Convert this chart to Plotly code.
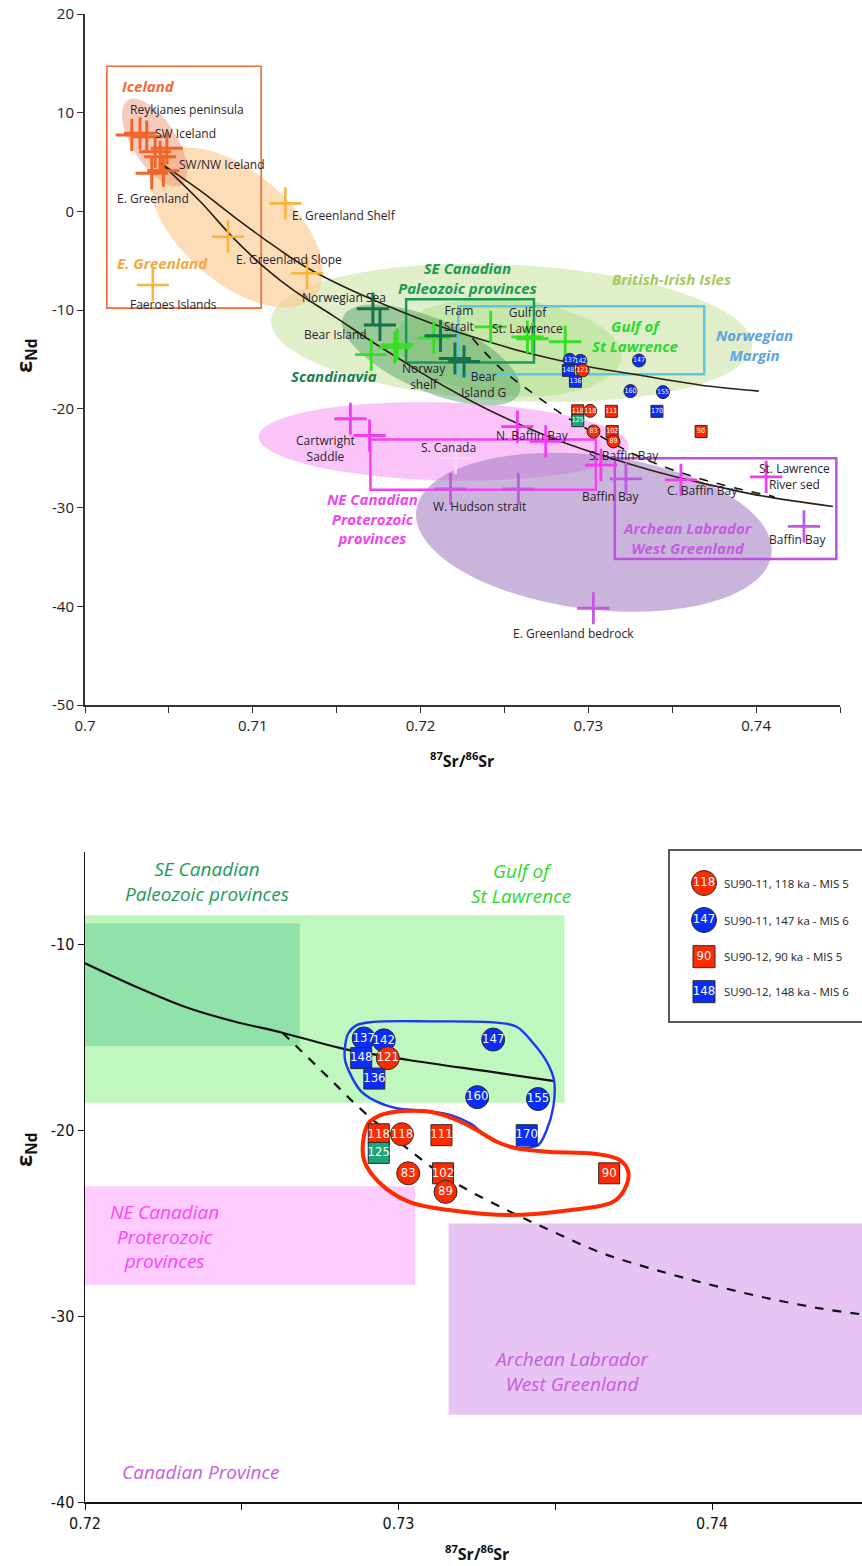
import numpy as np
import plotly.graph_objects as go

# ---------------- DATA (top panel source-area crosses) ----------------
iceland_x = [0.70279, 0.70328, 0.70368, 0.70418, 0.70488, 0.70448, 0.70398, 0.70467]
iceland_y = [7.74, 7.91, 7.57, 6.05, 6.39, 5.54, 3.86, 4.13]
egreen_x = [0.71194, 0.70852, 0.71324, 0.70404]
egreen_y = [0.82, -2.56, -6.27, -7.45]
dkgreen_x = [0.71716, 0.71758, 0.72119, 0.72205, 0.72259]
dkgreen_y = [-9.85, -11.5, -12.6, -14.9, -15.2]
brgreen_x = [0.71706, 0.71846, 0.71861, 0.72079, 0.72418, 0.72637, 0.72667, 0.72862]
brgreen_y = [-14.5, -13.8, -13.5, -12.8, -11.7, -12.7, -12.9, -13.2]
magenta_x = [0.71582, 0.71696, 0.72577, 0.72746, 0.73075, 0.73552, 0.7406]
magenta_y = [-21.0, -22.7, -21.8, -23.3, -25.7, -27.2, -26.9]
faint_x = [0.72209]
faint_y = [-25.0]
purple_x = [0.72179, 0.72583, 0.73224, 0.74285, 0.7303]
purple_y = [-28.1, -28.1, -27.1, -31.9, -40.2]

# ---------------- DATA (core samples, both panels) ----------------
c11_5_lab = ["121", "118", "83", "89"]
c11_5_x = [0.72966, 0.73011, 0.73031, 0.7315]
c11_5_y = [-16.1, -20.2, -22.3, -23.3]
c11_6_lab = ["137", "142", "147", "160", "155"]
c11_6_x = [0.72889, 0.72953, 0.73302, 0.73251, 0.73445]
c11_6_y = [-15.04, -15.14, -15.1, -18.2, -18.3]
s12_5_lab = ["118", "111", "102", "90"]
s12_5_x = [0.72937, 0.73137, 0.73142, 0.73672]
s12_5_y = [-20.2, -20.25, -22.3, -22.3]
s12_6_lab = ["148", "136", "170"]
s12_6_x = [0.72881, 0.72923, 0.73409]
s12_6_y = [-16.1, -17.2, -20.25]
s12_g_lab = ["125"]
s12_g_x = [0.72937]
s12_g_y = [-21.2]

legend_labels = ["SU90-11, 118 ka - MIS 5", "SU90-11, 147 ka - MIS 6",
                 "SU90-12, 90 ka - MIS 5", "SU90-12, 148 ka - MIS 6"]
legend_marks = ["118", "147", "90", "148"]

# ---------------- DATA (mixing curves) ----------------
top_up_x = [0.70454, 0.70687, 0.70885, 0.71085, 0.71284, 0.71443, 0.71682, 0.7206,
            0.72309, 0.7263, 0.72995, 0.73273, 0.73672, 0.74016]
top_up_y = [4.87, 2.1, -0.5, -3.0, -5.3, -6.8, -8.7, -11.3, -12.7, -14.3, -15.7,
            -16.5, -17.6, -18.2]
top_lo_x = [0.70454, 0.70687, 0.70885, 0.71085, 0.71244, 0.71482, 0.71721, 0.7188,
            0.72, 0.72279, 0.72478, 0.72836, 0.73154, 0.73433, 0.73672, 0.7403, 0.74458]
top_lo_y = [4.87, 1.0, -2.7, -5.9, -8.0, -10.6, -13.3, -15.0, -16.3, -19.0, -20.7,
            -23.3, -25.1, -26.5, -27.5, -28.8, -29.9]
top_da_x = [0.72309, 0.72478, 0.72675, 0.72876, 0.73075, 0.73273, 0.73473, 0.73672,
            0.7387, 0.74109]
top_da_y = [-12.85, -15.9, -18.5, -20.9, -22.8, -24.6, -26.0, -27.1, -28.0, -28.9]

bot_so_x = [0.72, 0.72162, 0.72318, 0.7247, 0.7263, 0.72825, 0.73032, 0.73292, 0.73493]
bot_so_y = [-10.99, -12.25, -13.33, -14.1, -14.73, -15.6, -16.2, -16.83, -17.32]
bot_da_x = [0.7263, 0.7278, 0.7289, 0.7310, 0.7320, 0.7336, 0.7350, 0.7365, 0.7382,
            0.73995, 0.7417, 0.74343, 0.7448]
bot_da_y = [-14.73, -17.2, -19.0, -21.9, -23.0, -24.4, -25.5, -26.6, -27.5, -28.3,
            -29.0, -29.57, -29.9]

# hand-drawn grouping loops (bottom panel)
blue_loop_x = [0.728294, 0.7284, 0.728667, 0.729197, 0.731005, 0.733132, 0.73377, 0.7343,
               0.734727, 0.73496, 0.734938, 0.734727, 0.734459, 0.734089, 0.733451,
               0.732813, 0.732281, 0.731643, 0.730791, 0.729943, 0.729197, 0.728772,
               0.728453, 0.728294]
blue_loop_y = [-15.48, -14.76, -14.32, -14.15, -14.12, -14.19, -14.41, -15.3, -16.29,
               -17.28, -18.71, -19.97, -20.78, -20.92, -20.81, -20.29, -19.61, -19.16,
               -18.93, -18.8, -18.35, -17.82, -16.92, -16.2]
red_loop_x = [0.728877, 0.729037, 0.72941, 0.730153, 0.731005, 0.731856, 0.732494,
              0.733132, 0.73377, 0.734727, 0.736322, 0.737065, 0.73733, 0.737225,
              0.736852, 0.735502, 0.733557, 0.731611, 0.730322, 0.72941, 0.7289]
red_loop_y = [-20.51, -19.61, -19.18, -18.95, -18.99, -19.43, -19.97, -20.6, -20.96,
              -21.14, -21.26, -21.59, -22.22, -23.11, -23.83, -24.28, -24.55, -24.28,
              -23.83, -22.84, -21.59]

# ---------------- LAYOUT CONSTANTS ----------------
W, H = 862, 1566
ML, MR, MT, MB = 85, 0, 14, 64
PW, PH = W - ML - MR, H - MT - MB
TOP_XR = [0.7, 0.745]
TOP_YR = [-50, 20]
BOT_XR = [0.72, 0.72 + PW / 31350]
BOT_YR = [-40, -5]
SX_TOP = 755 / 0.045
SY_TOP = 691 / 70.0

TXT = "#2b1d2e"
FONT = "Open Sans, Liberation Sans, sans-serif"
NARROW = "Liberation Sans Narrow, DejaVu Sans Condensed, Open Sans, sans-serif"

RED = "#ff2a00"
BLUE = "#0a2cff"
GRN = "#1fa57a"

fig = go.Figure()


def px2x(px):
    return (px - ML) / PW


def py2paper(py):
    return (MT + PH - py) / PH


def ellipse_path(cx, cy, a, b, ang):
    t = np.linspace(0, 2 * np.pi, 90)
    th = np.radians(ang)
    dx = a * np.cos(t) * np.cos(th) - b * np.sin(t) * np.sin(th)
    dy = a * np.cos(t) * np.sin(th) + b * np.sin(t) * np.cos(th)
    xs = cx + dx / SX_TOP
    ys = cy - dy / SY_TOP
    return "M " + " L ".join(f"{x:.6f},{y:.4f}" for x, y in zip(xs, ys)) + " Z"


# ---------- top panel ellipses (source-area fields) ----------
ellipses = [
    # cx, cy, a(px), b(px), angle, fill
    (0.72543, -12.3, 241, 68, 3, "rgba(205,228,170,0.62)"),     # British-Irish
    (0.72525, -13.8, 113, 48, 5, "rgba(175,225,140,0.55)"),      # Gulf green
    (0.72063, -14.55, 96, 36, 23.5, "rgba(80,160,100,0.48)"),    # Scandinavia
    (0.72137, -23.3, 185, 39, 1.5, "rgba(248,160,245,0.62)"),    # NE Canadian
    (0.73033, -32.5, 179, 77, 7, "rgba(165,125,195,0.58)"),      # Archean
    (0.70904, -1.63, 104, 55, 41, "rgba(250,200,140,0.62)"),     # E Greenland
    (0.70415, 6.98, 50, 22, 57.5, "rgba(235,140,110,0.45)"),     # Iceland
]
for cx, cy, a, b, ang, fc in ellipses:
    fig.add_shape(type="path", path=ellipse_path(cx, cy, a, b, ang), xref="x", yref="y",
                  fillcolor=fc, line=dict(width=0), layer="below")

# ---------- top panel outline boxes ----------
boxes = [
    (0.7013, -9.8, 0.7105, 14.7, "#f26b38", 1.6),
    (0.72225, -9.6, 0.73691, -16.5, "#5bc8e0", 2.5),
    (0.71914, -8.9, 0.72676, -15.3, "#1a9a5a", 2.5),
    (0.71701, -23.1, 0.73045, -28.2, "#f542f5", 2.5),
    (0.73158, -25.0, 0.74478, -35.2, "#c050e0", 2.5),
]
for x0, y0, x1, y1, c, w in boxes:
    fig.add_shape(type="rect", x0=x0, y0=y0, x1=x1, y1=y1, xref="x", yref="y",
                  line=dict(color=c, width=w), fillcolor="rgba(0,0,0,0)", layer="below")

# ---------- bottom panel rectangles ----------
rects = [
    (0.72, -8.4, 0.7353, -18.5, "#bff7bf"),
    (0.72, -8.85, 0.72685, -15.45, "#90e2a8"),
    (0.72, -23.0, 0.73053, -28.3, "#fdcbfd"),
    (0.7316, -25.0, 0.76, -35.3, "#e8c4f4"),
]
for x0, y0, x1, y1, c in rects:
    fig.add_shape(type="rect", x0=x0, y0=y0, x1=x1, y1=y1, xref="x2", yref="y2",
                  line=dict(width=0), fillcolor=c, layer="below")


# ---------- curves ----------
def line(x, y, xa, ya, dash="solid", width=1.6, color="#1a1a1a"):
    fig.add_trace(go.Scatter(x=x, y=y, xaxis=xa, yaxis=ya, mode="lines",
                             line=dict(color=color, width=width, dash=dash, shape="spline",
                                       smoothing=1.0),
                             hoverinfo="skip"))


line(top_up_x, top_up_y, "x", "y", color="#2a2010")
line(top_lo_x, top_lo_y, "x", "y", color="#2a2010")
line(top_da_x, top_da_y, "x", "y", dash="dash", color="#111")
line(bot_so_x, bot_so_y, "x2", "y2", width=2.2, color="#111")
line(bot_da_x, bot_da_y, "x2", "y2", dash="dash", width=2.2, color="#111")

# loops
fig.add_trace(go.Scatter(x=blue_loop_x + blue_loop_x[:1], y=blue_loop_y + blue_loop_y[:1],
                         xaxis="x2", yaxis="y2", mode="lines",
                         line=dict(color="#1a3aef", width=2.4, shape="spline", smoothing=1.0),
                         hoverinfo="skip"))
fig.add_trace(go.Scatter(x=red_loop_x + red_loop_x[:1], y=red_loop_y + red_loop_y[:1],
                         xaxis="x2", yaxis="y2", mode="lines",
                         line=dict(color="#ff2a00", width=4, shape="spline", smoothing=1.0),
                         hoverinfo="skip"))


# ---------- crosses ----------
def crosses(x, y, color, width=2.6, size=23):
    fig.add_trace(go.Scatter(x=x, y=y, xaxis="x", yaxis="y", mode="markers",
                             marker=dict(symbol="cross-thin", size=size, color=color,
                                         line=dict(color=color, width=width)),
                             hoverinfo="skip"))


crosses(faint_x, faint_y, "rgba(250,215,250,0.9)")
crosses(egreen_x, egreen_y, "#f9b43a")
crosses(iceland_x, iceland_y, "#f0652a", width=3)
crosses(brgreen_x, brgreen_y, "#33e022", width=2.8)
crosses(dkgreen_x, dkgreen_y, "#17734a", width=3)
crosses(magenta_x, magenta_y, "#f23cf0", width=2.8)
crosses(purple_x, purple_y, "#c15ae0", width=2.8)


# ---------- sample markers ----------
def samples(x, y, labs, sym, col, xa, ya, size, fsize):
    fig.add_trace(go.Scatter(x=x, y=y, xaxis=xa, yaxis=ya, mode="markers+text",
                             text=labs, textposition="middle center",
                             textfont=dict(color="white", size=fsize, family=NARROW),
                             marker=dict(symbol=sym, size=size, color=col,
                                         line=dict(color="#2a2a2a", width=1)),
                             cliponaxis=False, hoverinfo="skip"))


for xa, ya, cs, ss, fs in [("x", "y", 13, 12, 7), ("x2", "y2", 23, 21, 13)]:
    samples(c11_6_x, c11_6_y, c11_6_lab, "circle", BLUE, xa, ya, cs, fs)
    samples(s12_6_x, s12_6_y, s12_6_lab, "square", BLUE, xa, ya, ss, fs)
    samples(s12_5_x, s12_5_y, s12_5_lab, "square", RED, xa, ya, ss, fs)
    samples(s12_g_x, s12_g_y, s12_g_lab, "square", GRN, xa, ya, ss, fs)
    samples(c11_5_x, c11_5_y, c11_5_lab, "circle", RED, xa, ya, cs, fs)

# ---------- legend (drawn) ----------
fig.add_shape(type="rect", xref="paper", yref="paper",
              x0=px2x(669), x1=1.3, y0=py2paper(1022), y1=py2paper(850),
              line=dict(color="#222", width=1.5), fillcolor="white", layer="below")
leg_px_y = [883, 920, 956.7, 991.7]
leg_x = BOT_XR[0] + (704 - ML) / 31350
leg_y = [BOT_YR[1] - (py - 852) / (650 / 35) for py in leg_px_y]
leg_sym = ["circle", "circle", "square", "square"]
leg_col = [RED, BLUE, RED, BLUE]
leg_size = [25, 25, 22, 22]
for i in range(4):
    samples([leg_x], [leg_y[i]], [legend_marks[i]], leg_sym[i], leg_col[i], "x2", "y2",
            leg_size[i], 13)
    fig.add_annotation(text=legend_labels[i], xref="paper", yref="paper",
                       x=px2x(722), y=py2paper(leg_px_y[i]), xanchor="left",
                       yanchor="middle", showarrow=False,
                       font=dict(size=11.5, color="#222", family=FONT))


# ---------- annotations ----------
def note(text, x, y, xref="x", yref="y", size=12, color=TXT, anchor="center",
         italic=False, bold=False, family=FONT, angle=0):
    t = text
    if italic:
        t = "<i>" + t.replace("<br>", "</i><br><i>") + "</i>"
    if bold:
        t = "<b>" + t.replace("<br>", "</b><br><b>") + "</b>"
    fig.add_annotation(text=t, x=x, y=y, xref=xref, yref=yref, showarrow=False,
                       xanchor=anchor, yanchor="middle", textangle=angle,
                       font=dict(size=size, color=color, family=family))


small = [
    ("Reykjanes peninsula", 0.70255, 10.35, "left"),
    ("SW Iceland", 0.70408, 7.9, "left"),
    ("SW/NW Iceland", 0.70551, 4.8, "left"),
    ("E. Greenland", 0.70179, 1.36, "left"),
    ("E. Greenland Shelf", 0.7122, -0.46, "left"),
    ("E. Greenland Slope", 0.70886, -4.9, "left"),
    ("Faeroes Islands", 0.70255, -9.38, "left"),
    ("Norwegian Sea", 0.71284, -8.7, "left"),
    ("Bear Island", 0.71294, -12.45, "left"),
    ("Fram<br>Strait", 0.72229, -10.83, "center"),
    ("Gulf of<br>St. Lawrence", 0.72637, -11.07, "center"),
    ("Norway<br>shelf", 0.7202, -16.74, "center"),
    ("Bear<br>Island G", 0.72378, -17.5, "center"),
    ("Cartwright<br>Saddle", 0.71433, -24.0, "center"),
    ("S. Canada", 0.72169, -23.94, "center"),
    ("N. Baffin Bay", 0.72667, -22.65, "center"),
    ("S. Baffin Bay", 0.73214, -24.68, "center"),
    ("Baffin Bay", 0.7313, -28.9, "center"),
    ("W. Hudson strait", 0.72352, -29.91, "center"),
    ("C. Baffin Bay", 0.73682, -28.22, "center"),
    ("St. Lawrence<br>River sed", 0.74229, -26.82, "center"),
    ("Baffin Bay", 0.74249, -33.22, "center"),
    ("E. Greenland bedrock", 0.7291, -42.8, "center"),
]
for t, x, y, a in small:
    note(t, x, y, anchor=a)

regions_top = [
    ("Iceland", 0.70376, 12.71, "#f26a3a"),
    ("E. Greenland", 0.70464, -5.26, "#f7a541"),
    ("SE Canadian<br>Paleozoic provinces", 0.72279, -6.78, "#1b9a57"),
    ("British-Irish Isles", 0.73493, -6.88, "#a6c95f"),
    ("Gulf of<br>St Lawrence", 0.73278, -12.62, "#2bd92b"),
    ("Norwegian<br>Margin", 0.7399, -13.53, "#5ba3e0"),
    ("Scandinavia", 0.71487, -16.67, "#1b7f4e"),
    ("NE Canadian<br>Proterozoic<br>provinces", 0.71711, -31.06, "#f044f0"),
    ("Archean Labrador<br>West Greenland", 0.73592, -33.11, "#c45ce0"),
]
for t, x, y, c in regions_top:
    note(t, x, y, size=15, color=c, italic=True, bold=True)

regions_bot = [
    ("SE Canadian<br>Paleozoic provinces", 0.7239, -6.6, "#1b9a57"),
    ("Gulf of<br>St Lawrence", 0.73391, -6.7, "#2bd92b"),
    ("NE Canadian<br>Proterozoic<br>provinces", 0.72254, -25.7, "#ff44ff"),
    ("Archean Labrador<br>West Greenland", 0.73554, -32.96, "#c45ce0"),
    ("Canadian Province", 0.72369, -38.4, "#c45ce0"),
]
for t, x, y, c in regions_bot:
    note(t, x, y, xref="x2", yref="y2", size=19, color=c, italic=True)

# axis titles
note("ε<sub>Nd</sub>", px2x(25), py2paper(356), xref="paper", yref="paper", size=22,
     color="#111", bold=True, angle=-90)
note("ε<sub>Nd</sub>", px2x(25), py2paper(1150), xref="paper", yref="paper", size=22,
     color="#111", bold=True, angle=-90)
note("<sup>87</sup>Sr/<sup>86</sup>Sr", px2x(462), py2paper(760), xref="paper",
     yref="paper", size=16, color="#111", bold=True)
note("<sup>87</sup>Sr/<sup>86</sup>Sr", px2x(477), py2paper(1553), xref="paper",
     yref="paper", size=16, color="#111", bold=True)

# ---------- axes ----------
ax_common = dict(showgrid=False, zeroline=False, showline=True, ticks="outside",
                 ticklen=6, mirror=False, ticklabeloverflow="allow", automargin=False)
top_xt = [0.7, 0.71, 0.72, 0.73, 0.74]
top_xl = ["0.7", "0.71", "0.72", "0.73", "0.74"]
top_yt = [20, 10, 0, -10, -20, -30, -40, -50]
bot_xt = [0.72, 0.73, 0.74]
bot_xl = ["0.72", "0.73", "0.74"]
bot_yt = [-10, -20, -30, -40]

fig.update_layout(
    width=W, height=H, margin=dict(l=ML, r=MR, t=MT, b=MB, autoexpand=False),
    paper_bgcolor="white", plot_bgcolor="rgba(0,0,0,0)", showlegend=False,
    xaxis=dict(domain=[0, 755 / PW], range=TOP_XR, anchor="y", tickvals=top_xt,
               ticktext=top_xl, linecolor="#333", linewidth=2, tickcolor="#333",
               minor=dict(tick0=0.7, dtick=0.005, ticks="outside", ticklen=6,
                          tickcolor="#333"),
               tickfont=dict(size=15, color="#222", family=FONT), **ax_common),
    yaxis=dict(domain=[py2paper(705), 1], range=TOP_YR, anchor="x", tickvals=top_yt,
               ticktext=[str(v) for v in top_yt], linecolor="#333",
               linewidth=2, tickcolor="#333",
               tickfont=dict(size=15, color="#222", family=FONT), **ax_common),
    xaxis2=dict(domain=[0, 1], range=BOT_XR, anchor="y2", tickvals=bot_xt, ticktext=bot_xl,
                linecolor="#111", linewidth=1.5, tickcolor="#111",
                minor=dict(tick0=0.72, dtick=0.005, ticks="outside", ticklen=6,
                           tickcolor="#111"),
                tickfont=dict(size=16, color="#111", family=NARROW), **ax_common),
    yaxis2=dict(domain=[0, py2paper(852)], range=BOT_YR, anchor="x2", tickvals=bot_yt,
                ticktext=[str(v) for v in bot_yt], linecolor="#111", linewidth=1.5,
                tickcolor="#111", tickfont=dict(size=16, color="#111", family=NARROW),
                **ax_common),
)

# the page's default body margin would shift the figure by 8px; remove it
fig.write_html("out.html", config={"displayModeBar": False, "staticPlot": True},
               post_script="document.body.style.margin='0px';"
                           "document.body.style.overflow='hidden';")
